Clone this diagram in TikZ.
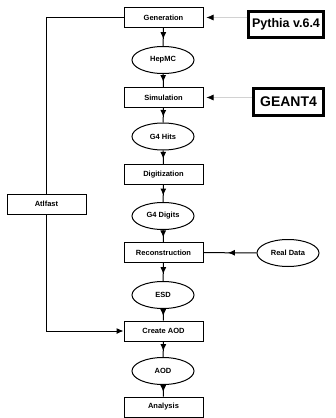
\documentclass[tikz,border=0pt]{standalone}
\usepackage{fontspec}
\setmainfont{Liberation Sans}
\usepackage{tikz}
\usetikzlibrary{arrows.meta,shapes,calc,decorations.markings}

\tikzset{
  stepbox/.style={draw, line width=1pt, minimum width=79pt, minimum height=20pt, inner sep=0pt, font=\fontsize{7.5}{9}\selectfont\bfseries},
  datanode/.style={ellipse, draw, line width=1pt, minimum width=62pt, minimum height=27pt, inner sep=0pt, font=\fontsize{7.5}{9}\selectfont\bfseries},
  toolbox/.style={draw, line width=3pt, inner sep=0pt, font=\bfseries},
  midarrow/.style={line width=1pt, decoration={markings, mark=at position #1 with {\arrow{Latex[length=7pt,width=6pt]}}}, postaction={decorate}},
  midarrow/.default=0.62,
  feed/.style={gray!35, line width=0.6pt, shorten >=3pt, -{Latex[black,length=7pt,width=6pt]}}
}

\begin{document}
\begin{tikzpicture}[x=1pt,y=-1pt]
\useasboundingbox (0,0) rectangle (336,418);

% Main chain
\node[stepbox] (gen) at (163.5,17.5) {Generation};
\node[datanode] (hepmc) at (163,60) {HepMC};
\node[stepbox] (sim) at (163.5,97.5) {Simulation};
\node[datanode] (hits) at (163,136.5) {G4 Hits};
\node[stepbox] (digi) at (163.5,174.5) {Digitization};
\node[datanode] (digits) at (163,216) {G4 Digits};
\node[stepbox] (reco) at (163.5,252.5) {Reconstruction};
\node[datanode] (esd) at (163,295) {ESD};
\node[stepbox] (mkaod) at (163.5,331) {Create AOD};
\node[datanode] (aod) at (163,371) {AOD};
\node[stepbox] (ana) at (163.5,407) {Analysis};

% Inputs
\node[toolbox, minimum width=75pt, minimum height=26pt, font=\fontsize{12.5}{14}\selectfont\bfseries] (pythia) at (286,24) {Pythia v.6.4};
\node[toolbox, minimum width=70pt, minimum height=27pt, font=\fontsize{14}{16}\selectfont\bfseries] (geant) at (288.5,102) {GEANT4};
\node[datanode] (real) at (288,253) {Real Data};

% Fast simulation
\node[stepbox] (atlfast) at (46.5,204) {Atlfast};

% Chain arrows
\draw[midarrow] (gen) -- (hepmc);
\draw[midarrow] (hepmc) -- (sim);
\draw[midarrow] (sim) -- (hits);
\draw[midarrow] (hits) -- (digi);
\draw[midarrow] (digi) -- (digits);
\draw[midarrow] (digits) -- (reco);
\draw[midarrow] (reco) -- (esd);
\draw[midarrow] (esd) -- (mkaod);
\draw[midarrow] (mkaod) -- (aod);
\draw[midarrow] (aod) -- (ana);
\draw[midarrow=0.54] (real) -- (reco);

% Generator and detector inputs
\draw[feed] (pythia.west |- gen.east) -- (gen.east);
\draw[feed] (geant.west |- sim.east) -- (sim.east);

% Atlfast branch
\draw[line width=1pt] (gen.west) -| (atlfast.north);
\draw[line width=1pt, -{Latex[length=7pt,width=6pt]}] (atlfast.south) |- (mkaod.west);

\end{tikzpicture}
\end{document}
